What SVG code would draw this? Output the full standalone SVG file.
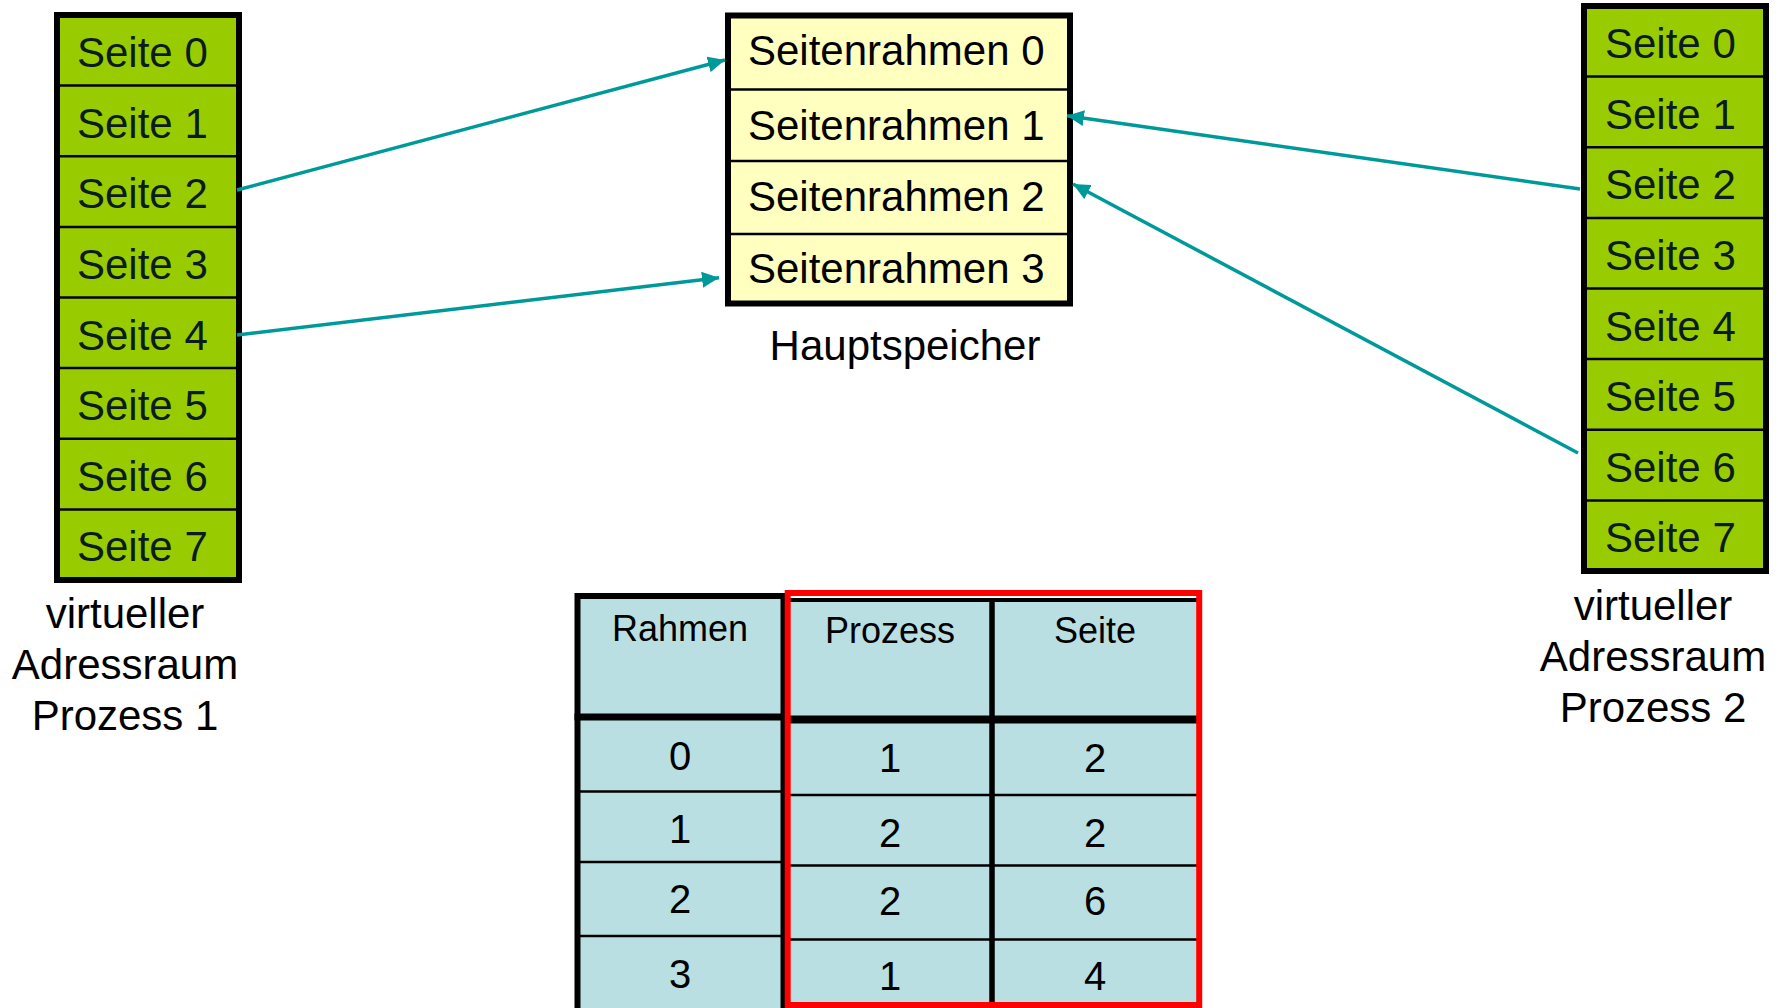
<svg xmlns="http://www.w3.org/2000/svg" width="1781" height="1008" viewBox="0 0 1781 1008">
<style>
.t{font-family:"Liberation Sans",Arial,sans-serif;font-size:42px;fill:#000}
.g{font-family:"Liberation Sans",Arial,sans-serif;font-size:42px;fill:#0A1C1F}
.h{font-family:"Liberation Sans",Arial,sans-serif;font-size:36px;fill:#000;text-anchor:middle}
.d{font-family:"Liberation Sans",Arial,sans-serif;font-size:40px;fill:#000;text-anchor:middle}
.c{text-anchor:middle}
.box{stroke:#000;stroke-width:6}
.div{stroke:#000;stroke-width:2.5}
.arr{stroke:#009999;stroke-width:3.5;fill:none;marker-end:url(#ah)}
</style>
<defs>
<marker id="ah" markerUnits="userSpaceOnUse" markerWidth="20" markerHeight="16" refX="17" refY="8" orient="auto">
<path d="M0,0 L17,8 L0,16 Z" fill="#009999"/>
</marker>
</defs>
<rect width="1781" height="1008" fill="#fff"/>

<g id="p1">
<rect class="box" x="57" y="15" width="182" height="565" fill="#99CC00"/>
<g class="div">
<line x1="57" y1="85.6" x2="239" y2="85.6"/><line x1="57" y1="156.2" x2="239" y2="156.2"/>
<line x1="57" y1="226.9" x2="239" y2="226.9"/><line x1="57" y1="297.5" x2="239" y2="297.5"/>
<line x1="57" y1="368.1" x2="239" y2="368.1"/><line x1="57" y1="438.7" x2="239" y2="438.7"/>
<line x1="57" y1="509.4" x2="239" y2="509.4"/>
</g>
<text class="g" x="77" y="67">Seite 0</text>
<text class="g" x="77" y="137.6">Seite 1</text>
<text class="g" x="77" y="208.2">Seite 2</text>
<text class="g" x="77" y="278.9">Seite 3</text>
<text class="g" x="77" y="349.5">Seite 4</text>
<text class="g" x="77" y="420.1">Seite 5</text>
<text class="g" x="77" y="490.7">Seite 6</text>
<text class="g" x="77" y="561.4">Seite 7</text>
<text class="t c" x="125" y="628">virtueller</text>
<text class="t c" x="125" y="679">Adressraum</text>
<text class="t c" x="125" y="730">Prozess 1</text>
</g>

<g id="p2">
<rect class="box" x="1584" y="6" width="182" height="565" fill="#99CC00"/>
<g class="div">
<line x1="1584" y1="76.6" x2="1766" y2="76.6"/><line x1="1584" y1="147.2" x2="1766" y2="147.2"/>
<line x1="1584" y1="217.9" x2="1766" y2="217.9"/><line x1="1584" y1="288.5" x2="1766" y2="288.5"/>
<line x1="1584" y1="359.1" x2="1766" y2="359.1"/><line x1="1584" y1="429.7" x2="1766" y2="429.7"/>
<line x1="1584" y1="500.4" x2="1766" y2="500.4"/>
</g>
<text class="g" x="1605" y="58">Seite 0</text>
<text class="g" x="1605" y="128.6">Seite 1</text>
<text class="g" x="1605" y="199.2">Seite 2</text>
<text class="g" x="1605" y="269.9">Seite 3</text>
<text class="g" x="1605" y="340.5">Seite 4</text>
<text class="g" x="1605" y="411.1">Seite 5</text>
<text class="g" x="1605" y="481.7">Seite 6</text>
<text class="g" x="1605" y="552.4">Seite 7</text>
<text class="t c" x="1653" y="620">virtueller</text>
<text class="t c" x="1653" y="671">Adressraum</text>
<text class="t c" x="1653" y="722">Prozess 2</text>
</g>

<g id="hs">
<rect class="box" x="728" y="15.5" width="342" height="288" fill="#FFFFC0"/>
<g class="div">
<line x1="728" y1="89.5" x2="1070" y2="89.5"/>
<line x1="728" y1="161" x2="1070" y2="161"/>
<line x1="728" y1="234" x2="1070" y2="234"/>
</g>
<text class="t" x="748" y="65">Seitenrahmen 0</text>
<text class="t" x="748" y="140">Seitenrahmen 1</text>
<text class="t" x="748" y="211">Seitenrahmen 2</text>
<text class="t" x="748" y="283">Seitenrahmen 3</text>
<text class="t c" x="905" y="360">Hauptspeicher</text>
</g>

<g id="tabelle">
<rect x="577.5" y="596" width="206" height="420" fill="#B9DFE2"/>
<rect x="788" y="598" width="411" height="420" fill="#B9DFE2"/>
<rect class="box" x="577.5" y="596" width="206" height="420" fill="none"/>
<line x1="574.5" y1="717" x2="786.5" y2="717" stroke="#000" stroke-width="7"/>
<g class="div">
<line x1="577.5" y1="791.5" x2="783.5" y2="791.5"/>
<line x1="577.5" y1="862" x2="783.5" y2="862"/>
<line x1="577.5" y1="936" x2="783.5" y2="936"/>
<line x1="788" y1="795" x2="1199" y2="795"/>
<line x1="788" y1="865.5" x2="1199" y2="865.5"/>
<line x1="788" y1="939.5" x2="1199" y2="939.5"/>
</g>
<line x1="788" y1="600" x2="1199" y2="600" stroke="#000" stroke-width="4"/>
<line x1="992" y1="600" x2="992" y2="1008" stroke="#000" stroke-width="5.5"/>
<line x1="788" y1="719.5" x2="1199" y2="719.5" stroke="#000" stroke-width="8"/>
<rect x="787.7" y="593" width="411.5" height="412" fill="none" stroke="#FF0000" stroke-width="6"/>
<text class="h" x="680" y="641">Rahmen</text>
<text class="h" x="890" y="643">Prozess</text>
<text class="h" x="1095" y="643">Seite</text>
<text class="d" x="680" y="770">0</text>
<text class="d" x="680" y="843">1</text>
<text class="d" x="680" y="913">2</text>
<text class="d" x="680" y="988">3</text>
<text class="d" x="890" y="772">1</text>
<text class="d" x="890" y="847">2</text>
<text class="d" x="890" y="915">2</text>
<text class="d" x="890" y="990">1</text>
<text class="d" x="1095" y="772">2</text>
<text class="d" x="1095" y="847">2</text>
<text class="d" x="1095" y="915">6</text>
<text class="d" x="1095" y="990">4</text>
</g>

<g id="connectors">
<line class="arr" x1="237" y1="190" x2="725" y2="60"/>
<line class="arr" x1="237" y1="335" x2="719" y2="277.7"/>
<line class="arr" x1="1580" y1="189" x2="1067" y2="115.7"/>
<line class="arr" x1="1578" y1="453" x2="1073" y2="184"/>
</g>
</svg>
